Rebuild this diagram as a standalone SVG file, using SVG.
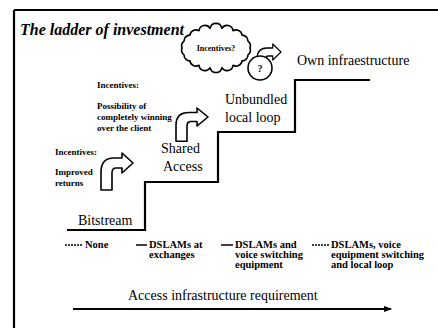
<svg xmlns="http://www.w3.org/2000/svg" width="438" height="328" viewBox="0 0 438 328">
<defs>
<style>
text{font-family:'Liberation Serif','Times New Roman','DejaVu Serif','Noto Serif',serif;fill:#000}
.title{font-size:16px;font-weight:bold;font-style:italic}
.step{font-size:14px}
.inc{font-size:9px;font-weight:bold}
.leg{font-size:10.5px;font-weight:bold}
.line{stroke:#000;stroke-width:2.2;fill:none}
.arrowshape{fill:#fff;stroke:#000;stroke-width:1.6;stroke-linejoin:round}
</style>
<path id="bent" d="M0,37 L0,19 Q0,5 13,5 L21,5 L21,0 L32,10 L21,20 L21,15 L15,15 Q11,15 11,20 L11,37 Z"/>
<marker id="ah" markerWidth="8" markerHeight="6" refX="7" refY="3" orient="auto" markerUnits="userSpaceOnUse">
<path d="M0,0 L8,3 L0,6 Z" fill="#000"/>
</marker>
</defs>
<rect width="438" height="328" fill="#fff"/>

<g id="frame">
<line class="line" x1="14" y1="10" x2="438" y2="10"/>
<line class="line" x1="14" y1="10" x2="14" y2="328"/>
</g>

<g id="title">
<text class="title" x="20" y="35">The ladder of investment</text>
</g>

<g id="staircase">
<path class="line" d="M67,230 L145,230 L145,182 L218,182 L218,132 L295,132 L295,80 L370,80"/>
</g>

<g id="bitstream"><text class="step" x="78" y="225">Bitstream</text></g>
<g id="shared"><text class="step" x="161" y="153">Shared</text><text class="step" x="163" y="171">Access</text></g>
<g id="unbundled"><text class="step" x="225" y="104">Unbundled</text><text class="step" x="225" y="122">local loop</text></g>
<g id="own"><text class="step" x="297" y="65">Own infraestructure</text></g>

<g id="incentives1">
<text class="inc" x="55" y="155">Incentives:</text>
<text class="inc" x="55" y="175">Improved</text>
<text class="inc" x="55" y="186">returns</text>
</g>
<g id="incentives2">
<text class="inc" x="97" y="88">Incentives:</text>
<text class="inc" x="97" y="109">Possibility of</text>
<text class="inc" x="97" y="120">completely winning</text>
<text class="inc" x="97" y="131">over the client</text>
</g>

<g id="cloud">
<path class="arrowshape" d="M250,48 A6,6 0 0,1 248,54.8 A6,6 0 0,1 242,60.9 A6,6 0 0,1 233,65.3 A6,6 0 0,1 221.9,67.7 A6,6 0 0,1 210.1,67.7 A6,6 0 0,1 199,65.3 A6,6 0 0,1 190,60.9 A6,6 0 0,1 184,54.8 A6,6 0 0,1 182,48 A6,6 0 0,1 184,41.2 A6,6 0 0,1 190,35.1 A6,6 0 0,1 199,30.7 A6,6 0 0,1 210.1,28.3 A6,6 0 0,1 221.9,28.3 A6,6 0 0,1 233,30.7 A6,6 0 0,1 242,35.1 A6,6 0 0,1 248,41.2 A6,6 0 0,1 250,48 Z"/>
<text x="216" y="51" text-anchor="middle" font-size="8" font-weight="bold">Incentives?</text>
</g>

<g id="arrows">
<use href="#bent" class="arrowshape" transform="translate(101,153)"/>
<use href="#bent" class="arrowshape" transform="translate(176,108) scale(1,0.9)"/>
<use href="#bent" class="arrowshape" transform="translate(257,44) scale(0.75,0.8)"/>
</g>

<g id="question">
<circle cx="260" cy="68" r="12" fill="#fff" stroke="#000" stroke-width="1.6"/>
<text x="260" y="72" text-anchor="middle" font-size="10" font-weight="bold">?</text>
</g>

<g id="legend">
<line x1="65" y1="245" x2="83" y2="245" stroke="#000" stroke-width="1.5" stroke-dasharray="2,1"/>
<text class="leg" x="85" y="248">None</text>
<line x1="136" y1="245" x2="147" y2="245" stroke="#000" stroke-width="1.5"/>
<text class="leg" x="149" y="248">DSLAMs at</text>
<text class="leg" x="149" y="258">exchanges</text>
<line x1="221" y1="245" x2="233" y2="245" stroke="#000" stroke-width="1.5"/>
<text class="leg" x="235" y="248">DSLAMs and</text>
<text class="leg" x="235" y="258">voice switching</text>
<text class="leg" x="235" y="268">equipment</text>
<line x1="312" y1="245" x2="330" y2="245" stroke="#000" stroke-width="1.5" stroke-dasharray="2,1"/>
<text class="leg" x="331" y="248">DSLAMs, voice</text>
<text class="leg" x="331" y="258">equipment switching</text>
<text class="leg" x="331" y="268">and local loop</text>
</g>

<g id="axis">
<text class="step" x="128" y="300">Access infrastructure requirement</text>
<line x1="73" y1="309" x2="391" y2="309" stroke="#000" stroke-width="2" marker-end="url(#ah)"/>
</g>
</svg>
